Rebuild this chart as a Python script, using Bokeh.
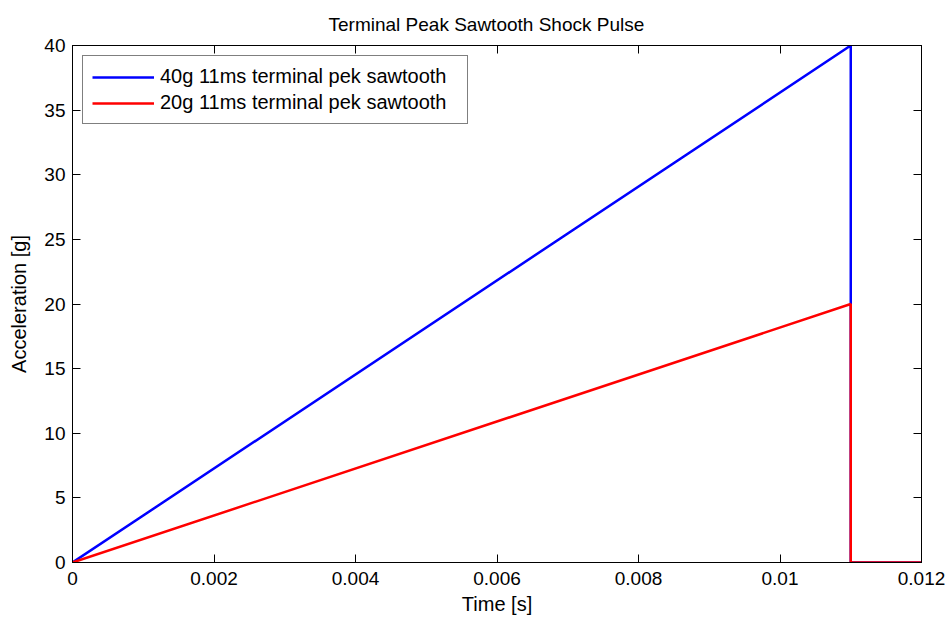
from bokeh.plotting import figure
from bokeh.models import LinearAxis, Range1d, FixedTicker, Legend, LegendItem
from bokeh.embed import file_html
from bokeh.resources import INLINE

# Terminal peak sawtooth pulses: linear ramp to the peak, instant drop to zero
time_s = [0.0, 0.011, 0.011, 0.012]
accel_40g = [0.0, 40.0, 0.0, 0.0]
accel_20g = [0.0, 20.0, 0.0, 0.0]

x_ticks = [0, 0.002, 0.004, 0.006, 0.008, 0.01, 0.012]
x_tick_labels = ["0", "0.002", "0.004", "0.006", "0.008", "0.01", "0.012"]
y_ticks = [0, 5, 10, 15, 20, 25, 30, 35, 40]

FONT = "Liberation Sans"
TICK_FS = "19px"
LABEL_FS = "20px"

p = figure(
    frame_width=849, frame_height=517,
    min_border_left=72, min_border_right=29, min_border_top=45, min_border_bottom=57,
    x_range=Range1d(0, 0.012), y_range=Range1d(0, 40),
    output_backend="svg", toolbar_location=None,
    title="Terminal Peak Sawtooth Shock Pulse",
)
p.title.align = "left"
p.title.offset = 256
p.title.vertical_align = "top"
p.title.text_font = FONT
p.title.text_font_size = "19px"
p.title.text_font_style = "normal"
p.title.text_color = "black"
p.title.standoff = 18

p.xgrid.visible = False
p.ygrid.visible = False
p.outline_line_color = "black"
p.outline_line_width = 1
p.background_fill_color = "white"
p.border_fill_color = "white"

def style_axis(ax, ticks):
    ax.ticker = FixedTicker(ticks=ticks)
    ax.major_tick_in = 8
    ax.major_tick_out = 0
    ax.minor_tick_line_color = None
    ax.axis_line_color = "black"
    ax.major_tick_line_color = "black"
    ax.major_label_text_font = FONT
    ax.major_label_text_font_size = TICK_FS
    ax.major_label_text_color = "black"
    ax.axis_label_text_font = FONT
    ax.axis_label_text_font_style = "normal"
    ax.axis_label_text_color = "black"
    ax.axis_label_text_font_size = LABEL_FS

xa = p.xaxis[0]
style_axis(xa, x_ticks)
xa.major_label_overrides = {t: l for t, l in zip(x_ticks, x_tick_labels)}
xa.major_label_standoff = 9
xa.axis_label = "Time [s]"
xa.axis_label_standoff = 5

ya = p.yaxis[0]
style_axis(ya, y_ticks)
ya.major_label_standoff = 7
ya.axis_label = "Acceleration [g]"
ya.axis_label_standoff = 11

# Tick marks mirrored on the top and right edges of the box, without labels
top_ax = LinearAxis()
style_axis(top_ax, x_ticks)
top_ax.major_label_overrides = {t: "" for t in x_ticks}
top_ax.major_label_standoff = 0
p.add_layout(top_ax, "above")
right_ax = LinearAxis()
style_axis(right_ax, y_ticks)
right_ax.major_label_overrides = {t: "" for t in y_ticks}
right_ax.major_label_standoff = 0
p.add_layout(right_ax, "right")

r40 = p.line(time_s, accel_40g, line_color="#0000ff", line_width=2.5)
r20 = p.line(time_s, accel_20g, line_color="#ff0000", line_width=2.5)

legend = Legend(
    items=[
        LegendItem(label="40g 11ms terminal pek sawtooth", renderers=[r40]),
        LegendItem(label="20g 11ms terminal pek sawtooth", renderers=[r20]),
    ],
    location="top_left",
    margin=10,
    padding=9,
    spacing=3,
    glyph_width=62,
    glyph_height=20,
    label_height=20,
    label_width=298,
    label_standoff=6,
    label_text_font=FONT,
    label_text_font_size=LABEL_FS,
    label_text_color="black",
    border_line_color="black",
    border_line_width=1,
    background_fill_color="white",
    background_fill_alpha=1.0,
)
p.add_layout(legend, "center")

open("out.html", "w").write(file_html(p, INLINE))
